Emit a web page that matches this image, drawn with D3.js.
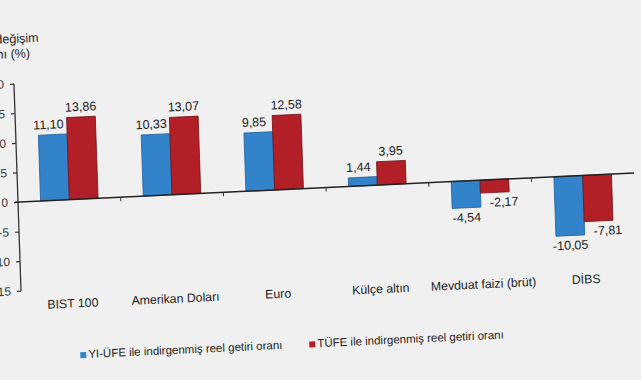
<!DOCTYPE html>
<html>
<head>
<meta charset="utf-8">
<script src="https://cdn.jsdelivr.net/npm/d3@7"></script>
<style>
  body { margin: 0; background: #f0f0f0; }
  svg { display: block; font-family: "Liberation Sans", Arial, sans-serif; }
</style>
</head>
<body>
<div id="chart"></div>
<script>
(function() {
  // data
  var categories = ["BIST 100", "Amerikan Doları", "Euro", "Külçe altın", "Mevduat faizi (brüt)", "DİBS"];
  var series = ["YI-ÜFE ile indirgenmiş reel getiri oranı", "TÜFE ile indirgenmiş reel getiri oranı"];
  var yiufe = [11.10, 10.33, 9.85, 1.44, -4.54, -10.05];
  var tufe = [13.86, 13.07, 12.58, 3.95, -2.17, -7.81];
  var yTicks = [20, 15, 10, 5, 0, -5, -10, -15];
  var titleLines = ["Yıllık değişim", "oranı (%)"];

  var width = 641, height = 380;
  var colors = ["#3383cb", "#b21f26"];
  var strokes = ["#1d5f9c", "#6e1216"];

  // plain hyphen minus like the original, comma decimals
  function fmt(v) {
    return d3.format(".2f")(v).replace("\u2212", "-").replace(".", ",");
  }

  var svg = d3.select("#chart")
    .append("svg")
    .attr("width", width)
    .attr("height", height);

  svg.append("rect")
    .attr("width", width)
    .attr("height", height)
    .attr("fill", "#f0f0f0");

  // the original is photographed at an angle, so the whole chart is sheared
  var g = svg.append("g")
    .attr("transform", "matrix(1,-0.047,0.034,1,18,202)");

  var x = d3.scaleBand()
    .domain(categories)
    .range([0, 616])
    .paddingInner(0.44)
    .paddingOuter(0.22);

  var xs = d3.scaleBand()
    .domain([0, 1])
    .range([0, x.bandwidth()]);

  var y = d3.scaleLinear()
    .domain([-15, 20])
    .range([88.7, -118.3]);

  // y axis
  var yAxis = d3.axisLeft(y)
    .tickValues(yTicks)
    .tickSize(4)
    .tickPadding(6)
    .tickFormat(function(d) { return String(d); });
  var ya = g.append("g").call(yAxis);
  ya.select(".domain").attr("stroke", "#333").attr("stroke-width", 1.3)
    .attr("d", "M0," + y(20) + "V" + y(-15));
  ya.selectAll(".tick line").attr("stroke", "#333").attr("stroke-width", 1.2);
  ya.selectAll(".tick text")
    .attr("fill", "#333")
    .style("font-size", "12px");

  // bars
  var rows = categories.map(function(c, i) {
    return { cat: c, vals: [yiufe[i], tufe[i]] };
  });

  var groups = g.selectAll("g.cat")
    .data(rows)
    .enter()
    .append("g")
    .attr("class", "cat")
    .attr("transform", function(d) { return "translate(" + x(d.cat) + ",0)"; });

  groups.selectAll("rect")
    .data(function(d) { return d.vals.map(function(v, s) { return { v: v, s: s }; }); })
    .enter()
    .append("rect")
    .attr("x", function(d) { return xs(d.s); })
    .attr("width", xs.bandwidth())
    .attr("y", function(d) { return Math.min(y(d.v), y(0)); })
    .attr("height", function(d) { return Math.abs(y(d.v) - y(0)); })
    .attr("fill", function(d) { return colors[d.s]; })
    .attr("stroke", function(d) { return strokes[d.s]; })
    .attr("stroke-width", 0.8);

  groups.selectAll("text.val")
    .data(function(d) { return d.vals.map(function(v, s) { return { v: v, s: s }; }); })
    .enter()
    .append("text")
    .attr("class", "val")
    .attr("x", function(d) {
      var dx = 0;
      if (d.s == 0 && d.v > 0) dx = -4;
      if (d.s == 1 && d.v < 0) dx = 9;
      return xs(d.s) + xs.bandwidth() / 2 + dx;
    })
    .attr("y", function(d) { return d.v >= 0 ? y(d.v) - 6 : y(d.v) + 14; })
    .attr("text-anchor", "middle")
    .attr("fill", "#222")
    .style("font-size", "12.5px")
    .text(function(d) { return fmt(d.v); });

  // zero line with category ticks
  g.append("line")
    .attr("x1", -3).attr("x2", 616)
    .attr("y1", y(0)).attr("y2", y(0))
    .attr("stroke", "#222")
    .attr("stroke-width", 1.5);

  g.selectAll("line.sep")
    .data(categories.slice(1))
    .enter()
    .append("line")
    .attr("class", "sep")
    .attr("x1", function(d) { return x(d) - x.step() * x.paddingInner() / 2; })
    .attr("x2", function(d) { return x(d) - x.step() * x.paddingInner() / 2; })
    .attr("y1", y(0))
    .attr("y2", y(0) + 4)
    .attr("stroke", "#333");

  // category labels
  g.selectAll("text.cat")
    .data(categories)
    .enter()
    .append("text")
    .attr("class", "cat")
    .attr("x", function(d) { return x(d) + x.bandwidth() / 2; })
    .attr("y", 108)
    .attr("text-anchor", "middle")
    .attr("fill", "#222")
    .style("font-size", "12.3px")
    .text(function(d) { return d; });

  // title, cut off at the left edge in the original
  g.selectAll("text.title")
    .data(titleLines)
    .enter()
    .append("text")
    .attr("class", "title")
    .attr("x", function(d, i) { return i == 0 ? 26 : 17; })
    .attr("y", function(d, i) { return i == 0 ? -159 : -144; })
    .attr("text-anchor", "end")
    .attr("fill", "#222")
    .style("font-size", "12.5px")
    .text(function(d) { return d; });

  // legend
  var legendX = [57, 286];
  var lg = g.selectAll("g.legend")
    .data(series)
    .enter()
    .append("g")
    .attr("class", "legend")
    .attr("transform", function(d, i) { return "translate(" + legendX[i] + ",153)"; });
  lg.append("rect")
    .attr("width", 6).attr("height", 6)
    .attr("fill", function(d, i) { return colors[i]; });
  lg.append("text")
    .attr("x", 8)
    .attr("y", 6)
    .attr("fill", "#222")
    .style("font-size", "11.5px")
    .text(function(d) { return d; });
})();
</script>
</body>
</html>
